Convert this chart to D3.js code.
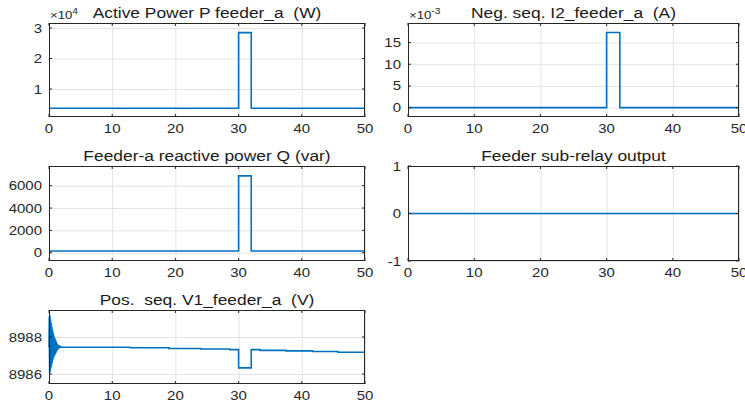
<!DOCTYPE html>
<html>
<head>
<meta charset="utf-8">
<script src="https://cdn.jsdelivr.net/npm/d3@7"></script>
<style>
  body { margin: 0; background: #fff; }
  svg { display: block; font-family: "Liberation Sans", Arial, sans-serif; }
  text { white-space: pre; }
  .tick-label { fill: #262626; font-size: 12.5px; }
  .title { fill: #1a1a1a; font-size: 14.5px; }
  .expo { fill: #262626; font-size: 11px; }
</style>
</head>
<body>
<svg id="chart" width="745" height="408"></svg>
<script>
// time axis, shared by all panels
const xTicks = [0, 10, 20, 30, 40, 50];

// Active power P (W) - step pulse between 30 and 32 s
const pTime = [0, 30, 30, 32, 32, 50];
const pValues = [3700, 3700, 28500, 28500, 3700, 3700];
const pTicks = [1, 2, 3]; // x10^4

// Negative sequence current I2 (A)
const i2Time = [0, 30, 30, 32, 32, 50];
const i2Values = [0, 0, 0.0173, 0.0173, 0, 0];
const i2Ticks = [0, 5, 10, 15]; // x10^-3

// Reactive power Q (var)
const qTime = [0, 30, 30, 32, 32, 50];
const qValues = [150, 150, 6880, 6880, 150, 150];
const qTicks = [0, 2000, 4000, 6000];

// Sub-relay output
const relayTime = [0, 50];
const relayValues = [0, 0];
const relayTicks = [-1, 0, 1];

// Positive sequence voltage V1 (V), start-up transient then slow drift
const v1Time = [
  0.00, 0.05, 0.10, 0.15, 0.20, 0.25, 0.30, 0.35, 0.40, 0.45,
  0.50, 0.55, 0.60, 0.65, 0.70, 0.75, 0.80, 0.85, 0.90, 0.95,
  1.00, 1.05, 1.10, 1.15, 1.20, 1.25, 1.30, 1.35, 1.40, 1.45,
  1.50, 1.55, 1.60, 1.65, 1.70, 1.75, 1.80, 1.90, 2.00,
  12.8, 12.8, 19.0, 19.0, 24.0, 24.0, 28.6, 28.6, 30.0, 30.0,
  32.0, 32.0, 33.4, 33.4, 37.5, 37.5, 41.7, 41.7, 45.7, 45.7, 50.0
];
const v1Values = [
  8987.45, 8989.10, 8986.05, 8989.15, 8986.15, 8988.95, 8986.30, 8988.75, 8986.45, 8988.55,
  8986.60, 8988.40, 8986.75, 8988.25, 8986.85, 8988.10, 8986.95, 8988.00, 8987.00, 8987.92,
  8987.08, 8987.82, 8987.15, 8987.74, 8987.22, 8987.66, 8987.28, 8987.60, 8987.33, 8987.56,
  8987.37, 8987.52, 8987.40, 8987.50, 8987.42, 8987.48, 8987.44, 8987.46, 8987.45,
  8987.45, 8987.42, 8987.42, 8987.38, 8987.38, 8987.35, 8987.35, 8987.32, 8987.32, 8986.33,
  8986.33, 8987.32, 8987.32, 8987.28, 8987.28, 8987.25, 8987.25, 8987.22, 8987.22, 8987.18, 8987.18
];
const v1Ticks = [8986, 8988];

const svg = d3.select('#chart');
const lineColor = '#0072BD';
const stretch = 1.2; // the figure's text is drawn a bit wider than plain Arial

const panels = [
  { title: 'Active Power P feeder_a  (W)', box: [49, 365, 23, 117], time: pTime, values: pValues,
    scale: 1e4, domain: [0.082, 3.164], ticks: pTicks, expo: '4' },
  { title: 'Neg. seq. I2_feeder_a  (A)', box: [408, 739, 23, 117], time: i2Time, values: i2Values,
    scale: 1e-3, domain: [-2.15, 19.5], ticks: i2Ticks, expo: '-3' },
  { title: 'Feeder-a reactive power Q (var)', box: [49, 365, 166, 261], time: qTime, values: qValues,
    scale: 1, domain: [-740, 7760], ticks: qTicks },
  { title: 'Feeder sub-relay output', box: [408, 739, 166, 261], time: relayTime, values: relayValues,
    scale: 1, domain: [-1, 1], ticks: relayTicks },
  { title: 'Pos.  seq. V1_feeder_a  (V)', box: [49, 365, 310, 384], time: v1Time, values: v1Values,
    scale: 1, domain: [8985.46, 8989.46], ticks: v1Ticks }
];

panels.forEach(drawPanel);

function placeText(sel, px, py) {
  return sel.attr('transform', `translate(${px}, ${py}) scale(${stretch}, 1)`);
}

function drawPanel(p) {
  const [left, right, top, bottom] = p.box;
  const x = d3.scaleLinear().domain([0, 50]).range([left, right]);
  const y = d3.scaleLinear().domain(p.domain).range([bottom, top]);
  const g = svg.append('g');

  // grid lines
  g.append('g')
    .attr('transform', `translate(0, ${bottom})`)
    .call(d3.axisBottom(x).tickValues(xTicks).tickFormat('').tickSize(-(bottom - top)))
    .call(s => s.select('.domain').remove())
    .selectAll('line').attr('stroke', '#e3e3e3').attr('stroke-width', 1);
  g.append('g')
    .attr('transform', `translate(${left}, 0)`)
    .call(d3.axisLeft(y).tickValues(p.ticks).tickFormat('').tickSize(-(right - left)))
    .call(s => s.select('.domain').remove())
    .selectAll('line').attr('stroke', '#e3e3e3').attr('stroke-width', 1);

  // data line
  const pts = p.time.map((t, i) => [t, p.values[i] / p.scale]);
  g.append('path')
    .datum(pts)
    .attr('fill', 'none')
    .attr('stroke', lineColor)
    .attr('stroke-width', 1.6)
    .attr('d', d3.line().x(d => x(d[0])).y(d => y(d[1])));

  // inward ticks on all four sides
  const tl = 3;
  const tickG = g.append('g').attr('stroke', '#262626').attr('stroke-width', 1);
  xTicks.forEach(v => {
    tickG.append('line').attr('x1', x(v)).attr('x2', x(v)).attr('y1', bottom).attr('y2', bottom - tl);
    tickG.append('line').attr('x1', x(v)).attr('x2', x(v)).attr('y1', top).attr('y2', top + tl);
  });
  p.ticks.forEach(v => {
    tickG.append('line').attr('x1', left).attr('x2', left + tl).attr('y1', y(v)).attr('y2', y(v));
    tickG.append('line').attr('x1', right).attr('x2', right - tl).attr('y1', y(v)).attr('y2', y(v));
  });

  // box
  g.append('rect')
    .attr('x', left + 0.5).attr('y', top + 0.5)
    .attr('width', right - left - 1).attr('height', bottom - top - 1)
    .attr('fill', 'none').attr('stroke', '#262626').attr('stroke-width', 1);

  // tick labels
  xTicks.forEach(v => {
    placeText(g.append('text'), x(v), bottom + 16)
      .attr('class', 'tick-label').attr('text-anchor', 'middle').text(v);
  });
  p.ticks.forEach(v => {
    placeText(g.append('text'), left - 7, y(v) + 4.5)
      .attr('class', 'tick-label').attr('text-anchor', 'end').text(v);
  });

  // exponent label
  if (p.expo) {
    const t = placeText(g.append('text'), left + 1, top - 4).attr('class', 'expo');
    t.append('tspan').text('\u00d710');
    t.append('tspan').attr('dy', -5).attr('font-size', '8.5px').text(p.expo);
  }

  // title
  placeText(g.append('text'), (left + right) / 2, top - 5)
    .attr('class', 'title')
    .attr('text-anchor', 'middle')
    .text(p.title);
}
</script>
</body>
</html>
